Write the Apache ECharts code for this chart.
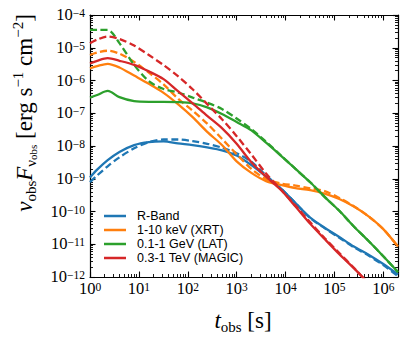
<!DOCTYPE html>
<html>
<head>
<meta charset="utf-8">
<script src="https://cdn.jsdelivr.net/npm/echarts@6/dist/echarts.min.js"></script>
<style>
  html, body { margin: 0; padding: 0; background: #fff; }
  #chart { width: 407px; height: 339px; }
</style>
</head>
<body>
<div id="chart"></div>
<script>
// observer-frame time grid [s]
const times = [1, 1.4, 2.3, 4, 8, 16, 32, 63, 126, 250, 500, 1000, 2000, 4000, 8000,
  1.6e4, 3.2e4, 6.3e4, 1.26e5, 2.5e5, 5e5, 1e6, 2e6];

// nu F_nu [erg s^-1 cm^-2], solid and dashed model for each band
const rBandSolid = [1.1e-9, 1.9e-9, 3.7e-9, 6.6e-9, 1.07e-8, 1.32e-8, 1.38e-8, 1.2e-8, 1.07e-8, 9.1e-9, 7.4e-9, 5.1e-9,
  2.6e-9, 1.17e-9, 5.1e-10, 1.8e-10, 6.5e-11, 3.2e-11, 1.66e-11, 8.5e-12, 4.8e-12, 2.5e-12, 1.2e-12];
const rBandDashed = [7.9e-10, 1.26e-9, 2.4e-9, 4.5e-9, 8.5e-9, 1.32e-8, 1.58e-8, 1.58e-8, 1.41e-8, 1.17e-8, 8.9e-9, 6.0e-9,
  3.3e-9, 1.26e-9, 5.1e-10, 1.8e-10, 6.3e-11, 3.1e-11, 1.58e-11, 8.1e-12, 4.5e-12, 2.3e-12, 1.07e-12];
const xrtSolid = [2.34e-6, 2.75e-6, 3.24e-6, 2.5e-6, 1.41e-6, 7.9e-7, 4.2e-7, 1.9e-7, 7.6e-8, 2.7e-8, 1.07e-8, 3.4e-9,
  1.51e-9, 8.5e-10, 6.5e-10, 5.2e-10, 4.5e-10, 3.5e-10, 2.4e-10, 1.41e-10, 7.1e-11, 2.9e-11, 8.5e-12];
const xrtDashed = [6.0e-6, 7.1e-6, 8.1e-6, 6.6e-6, 3.7e-6, 1.74e-6, 7.6e-7, 2.8e-7, 1.2e-7, 4.8e-8, 1.66e-8, 5.6e-9,
  2.0e-9, 9.8e-10, 7.2e-10, 6.2e-10, 5.1e-10, 4.2e-10, 2.6e-10, 1.45e-10, 7.1e-11, 2.9e-11, 8.5e-12];
const latSolid = [3.0e-7, 3.6e-7, 4.8e-7, 3.1e-7, 2.34e-7, 2.24e-7, 2.24e-7, 2.19e-7, 2.0e-7, 1.51e-7, 9.5e-8, 5.4e-8,
  3.0e-8, 1.26e-8, 5.1e-9, 2.0e-9, 7.8e-10, 2.8e-10, 1.05e-10, 3.5e-11, 1.26e-11, 4.3e-12, 1.41e-12];
const latDashed = [3.5e-5, 3.5e-5, 3.5e-5, 1.38e-5, 3.0e-6, 9.5e-7, 5.5e-7, 4.3e-7, 3.0e-7, 2.1e-7, 1.35e-7, 6.9e-8,
  3.3e-8, 1.35e-8, 5.2e-9, 2.0e-9, 7.8e-10, 2.8e-10, 1.05e-10, 3.5e-11, 1.26e-11, 4.3e-12, 1.41e-12];
const magicSolid = [3.3e-6, 4.0e-6, 4.8e-6, 4.0e-6, 3.0e-6, 1.9e-6, 1.1e-6, 4.7e-7, 2.0e-7, 8.3e-8, 3.5e-8, 1.17e-8,
  3.2e-9, 1.15e-9, 4.6e-10, 1.41e-10, 4.2e-11, 1.45e-11, 5.0e-12, 1.86e-12, 6.3e-13, 2.0e-13, 6.3e-14];
const magicDashed = [1.38e-5, 1.78e-5, 2.2e-5, 1.86e-5, 1.17e-5, 6.0e-6, 2.95e-6, 1.35e-6, 5.4e-7, 1.9e-7, 6.6e-8, 2.0e-8,
  5.5e-9, 1.45e-9, 4.7e-10, 1.51e-10, 4.7e-11, 1.55e-11, 5.4e-12, 1.9e-12, 6.3e-13, 2.0e-13, 6.3e-14];

const bandNames = ['R-Band', '1-10 keV (XRT)', '0.1-1 GeV (LAT)', '0.3-1 TeV (MAGIC)'];
const bandColors = ['#1f77b4', '#ff7f0e', '#2ca02c', '#d62728'];
const bandCurves = [
  [rBandSolid, rBandDashed],
  [xrtSolid, xrtDashed],
  [latSolid, latDashed],
  [magicSolid, magicDashed]
];

const xRange = [1, 2e6];
const yRange = [1e-12, 1e-4];

// minor tick positions 2..9 x 10^k inside each range
function minorValues(range) {
  const out = [];
  const k0 = Math.floor(Math.log10(range[0]));
  const k1 = Math.ceil(Math.log10(range[1]));
  for (let k = k0; k <= k1; k++) {
    for (let m = 2; m <= 9; m++) {
      const v = Number((m * Math.pow(10, k)).toPrecision(3));
      if (v > range[0] && v < range[1]) out.push(v);
    }
  }
  return out;
}

const serif = 'Liberation Serif';
const chart = echarts.init(document.getElementById('chart'), null, { renderer: 'svg' });

function pairs(vals) {
  return times.map((t, i) => [t, vals[i]]);
}

function powLabel(v) {
  const e = Math.round(Math.log10(v));
  return '{b|10}{s|' + (e < 0 ? '\u2212' + (-e) : e) + '}';
}

const tickRich = {
  b: { fontFamily: serif, fontSize: 16.5, color: '#000', lineHeight: 16, verticalAlign: 'bottom' },
  s: { fontFamily: serif, fontSize: 11.5, color: '#000', lineHeight: 11, verticalAlign: 'top', padding: [0, 0, 9, 0] }
};

const series = [];
bandCurves.forEach((pair, i) => {
  const c = bandColors[i];
  series.push({
    name: bandNames[i], type: 'line', data: pairs(pair[0]),
    showSymbol: false, smooth: 0.3, z: 2 + i * 2,
    lineStyle: { color: c, width: 2.3 }, itemStyle: { color: c }
  });
  series.push({
    name: bandNames[i] + ' dashed', type: 'line', data: pairs(pair[1]),
    showSymbol: false, smooth: 0.3, z: 3 + i * 2,
    lineStyle: { color: c, width: 2.3, type: [7, 3.5] }, itemStyle: { color: c }
  });
});

const frameLine = { show: true, lineStyle: { color: '#000', width: 1.2 } };
const noLine = { show: false };
const majorTick = { show: true, inside: true, length: 5.5, lineStyle: { color: '#000', width: 1.1 } };

function logAxis(range, extra) {
  return Object.assign({
    type: 'log', logBase: 10, min: range[0], max: range[1], interval: 1,
    splitLine: { show: false }, axisLabel: { show: false }, axisLine: frameLine, axisTick: majorTick
  }, extra);
}

function minorAxis(range, position) {
  return logAxis(range, {
    position: position, axisLine: noLine,
    axisTick: { show: true, inside: true, length: 3, customValues: minorValues(range),
      lineStyle: { color: '#000', width: 0.9 } }
  });
}

const option = {
  animation: false,
  backgroundColor: '#fff',
  grid: { left: 90, right: 9, top: 15, bottom: 62 },
  legend: {
    data: bandNames,
    orient: 'vertical',
    left: 104, top: 209,
    itemWidth: 22, itemHeight: 2.5, itemGap: 0,
    icon: 'rect',
    padding: 0,
    textStyle: { fontFamily: 'Liberation Sans', fontSize: 12.5, color: '#000', lineHeight: 14, padding: [0, 0, 0, 6] }
  },
  xAxis: [
    logAxis(xRange, { position: 'bottom', axisLabel: { margin: 4, formatter: powLabel, rich: tickRich } }),
    logAxis(xRange, { position: 'top' }),
    minorAxis(xRange, 'bottom'),
    minorAxis(xRange, 'top')
  ],
  yAxis: [
    logAxis(yRange, { position: 'left', axisLabel: { margin: 5, formatter: powLabel, rich: tickRich } }),
    logAxis(yRange, { position: 'right' }),
    minorAxis(yRange, 'left'),
    minorAxis(yRange, 'right')
  ],
  graphic: [
    {
      type: 'text', x: 243, y: 320,
      style: {
        text: '{i|t}{sub|obs}{r| [s]}',
        align: 'center', verticalAlign: 'middle',
        rich: {
          i: { fontFamily: serif, fontStyle: 'italic', fontSize: 23, color: '#000', lineHeight: 28 },
          r: { fontFamily: serif, fontSize: 23, color: '#000', lineHeight: 28 },
          sub: { fontFamily: serif, fontSize: 15, color: '#000', lineHeight: 15, verticalAlign: 'bottom' }
        }
      }
    },
    {
      type: 'text', x: 24, y: 113, rotation: Math.PI / 2,
      style: {
        text: '{i|\u03bd}{sub|obs}{i|F}{sub|\u03bd}{subsub|obs}{r| [erg s}{sup|\u22121}{r| cm}{sup|\u22122}{r|]}',
        align: 'center', verticalAlign: 'middle',
        rich: {
          i: { fontFamily: serif, fontStyle: 'italic', fontSize: 23, color: '#000', lineHeight: 28 },
          r: { fontFamily: serif, fontSize: 23, color: '#000', lineHeight: 28 },
          sub: { fontFamily: serif, fontSize: 15, color: '#000', lineHeight: 15, verticalAlign: 'bottom' },
          subsub: { fontFamily: serif, fontSize: 11, color: '#000', lineHeight: 11, verticalAlign: 'bottom' },
          sup: { fontFamily: serif, fontSize: 15, color: '#000', lineHeight: 15, verticalAlign: 'top' }
        }
      }
    }
  ],
  series: series
};

chart.setOption(option);
</script>
</body>
</html>
